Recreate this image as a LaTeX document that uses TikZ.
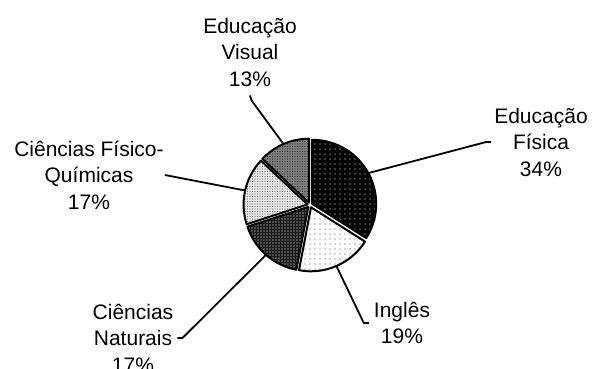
\documentclass[tikz,border=0pt]{standalone}
\usepackage{fontspec}
\setmainfont{Liberation Sans}
\usetikzlibrary{calc, patterns.meta, positioning}

\begin{document}
\begin{tikzpicture}[
      x=1pt, y=1pt,
      slice/.style = {
          draw,
          line width=2pt,
          line join=round,
        },
      lbl/.style = {
          align=center,
          inner sep=0pt,
          font=\fontsize{21}{26.5}\selectfont,
        },
      leader/.style = {line width=1.8pt},
    ]

    \useasboundingbox (0,0) rectangle (592,-369);

    \coordinate (c) at (310,-205);

    % slices: start/end angle, fill, dot colour, dot distance, name
    \foreach \a/\b/\f/\d/\s/\n in {
        -32.4/90/black/white/5/Fis,
        -100.8/-32.4/white/black!70/5/Ing,
        -162/-100.8/black!90/white/3/Nat,
        136.8/198/black!8/black!60/2.5/FQ,
        90/136.8/black!50/black!85/2.5/Vis} {
      \draw[slice, preaction={fill=\f},
          pattern={Dots[distance=\s pt, radius=0.55pt]}, pattern color=\d]
        ($(c)+({(\a+\b)/2}:2.5)$) -- ++(\a:64)
        arc[start angle=\a, end angle=\b, radius=64] -- cycle;
      \coordinate (p\n) at ($(c)+({(\a+\b)/2}:66)$);
    }

    \node[lbl](vis) at (250,-52) {Educação\\Visual\\13\%};
    \node[lbl](fq) at (89,-175) {Ciências Físico-\\Químicas\\17\%};
    \node[lbl](fis) at (541,-142) {Educação\\Física\\34\%};
    \node[lbl](ing) at (402,-323) {Inglês\\19\%};
    \node[lbl](nat) at (133,-338) {Ciências\\Naturais\\17\%};

    \draw[leader]([yshift=-9pt]vis.south) -- ++(1.5,-5) -- (pVis);
    \draw[leader]([xshift=1pt]fq.east) -- (pFQ);
    \draw[leader]([xshift=-3pt]fis.west) -- ++(-5,0) -- (pFis);
    \draw[leader]([xshift=-5pt]ing.west) -- ++(-5,0) -- (pIng);
    \draw[leader]([xshift=4pt]nat.east) -- ++(5,0) -- (pNat);

  \end{tikzpicture}
\end{document}
